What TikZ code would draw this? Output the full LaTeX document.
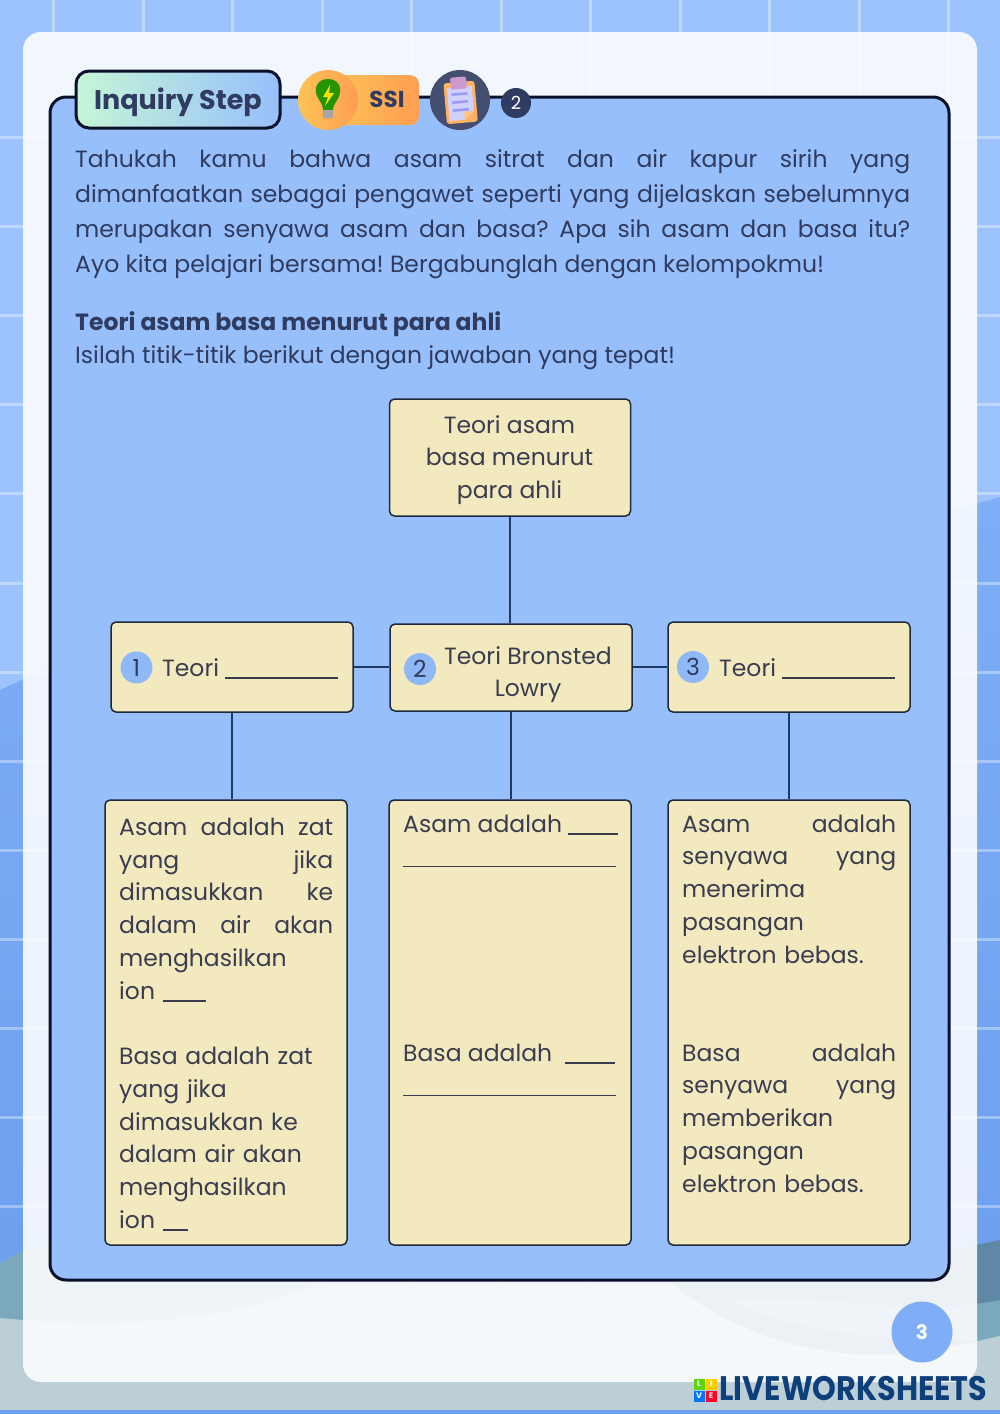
\documentclass[tikz,border=0pt]{standalone}
\usepackage{fontspec}
\setmainfont{Poppins}
\usepackage{xcolor}
\usetikzlibrary{calc, positioning, shapes.geometric}

\definecolor{skylight}{HTML}{9CC3FC}
\definecolor{skyhill}{HTML}{7FAEF7}
\definecolor{skydeep}{HTML}{6C9FEE}
\definecolor{hilldark}{HTML}{5F87A6}
\definecolor{hillteal}{HTML}{7BA9BC}
\definecolor{hillpale}{HTML}{BCCFD7}
\definecolor{panelblue}{HTML}{97BFFC}
\definecolor{inkdark}{HTML}{0A1128}
\definecolor{inknavy}{HTML}{2F3B60}
\definecolor{inkbox}{HTML}{3A3D50}
\definecolor{boxcream}{HTML}{F3E9BF}
\definecolor{boxedge}{HTML}{1F2937}
\definecolor{linknavy}{HTML}{1F3A66}
\definecolor{badgeblue}{HTML}{8FB8F7}
\definecolor{tagmint}{HTML}{C6F6D6}
\definecolor{pillstart}{HTML}{FCC456}
\definecolor{pillend}{HTML}{FF9E52}
\definecolor{logoblue}{HTML}{0F3F7A}

\newcommand{\jl}[2][\hsize]{\leavevmode{\spaceskip=\fontdimen2\font plus 1fil minus 0.4\fontdimen2\font\hbox to #1{#2}}}
\newcommand{\blank}[1]{\rule[-2.5pt]{#1pt}{1.4pt}}

\tikzset{
    sheetbox/.style={draw=boxedge, line width=1.5pt, fill=boxcream, rounded corners=5pt, inner sep=0pt},
    link/.style={draw=linknavy, line width=2pt},
    badge/.style={circle, fill=badgeblue, minimum size=32pt, inner sep=0pt, text=inknavy, font=\fontsize{23.5}{23.5}\selectfont},
    bodytext/.style={inner sep=0pt, anchor=base west, text=inknavy, align=left, font=\fontsize{23.5}{35}\selectfont},
    boxtext/.style={inner sep=0pt, text=inkbox, align=left, font=\fontsize{23.5}{32.75}\selectfont},
    logotile/.style={minimum size=11pt, inner sep=0pt, text=white, font=\bfseries\fontsize{8}{8}\selectfont},
}

\begin{document}
\frenchspacing
\begin{tikzpicture}[x=1pt,y=-1pt]
    \useasboundingbox (0,0) rectangle (1000,1414);

    % page background
    \fill[skylight] (0,0) rectangle (1000,1414);
    \shade[top color=skyhill, bottom color=skydeep] (0,690) .. controls (150,620) and (320,560) .. (520,540)
        .. controls (700,530) and (860,540) .. (1000,497) -- (1000,1300) -- (0,1300) -- cycle;
    \foreach \gy in {137,226,315,404,493,583,672,761,850,939,1028,1117,1206}
        \draw[white, opacity=0.35, line width=3pt] (0,\gy) -- (1000,\gy);
    \foreach \gx in {53,143,232,322,411,501,590,680,769,859,948}
        \draw[white, opacity=0.35, line width=3pt] (\gx,0) -- (\gx,1300);
    \fill[hilldark] (1000,1240) .. controls (900,1262) and (780,1270) .. (670,1283)
        .. controls (730,1330) and (800,1355) .. (880,1355) -- (1000,1355) -- cycle;
    \fill[hillteal] (0,1263) .. controls (40,1240) and (80,1225) .. (150,1225)
        .. controls (220,1225) and (300,1260) .. (320,1283)
        .. controls (240,1320) and (120,1330) .. (0,1318) -- cycle;
    \fill[hillteal] (1000,1300) .. controls (900,1320) and (830,1290) .. (730,1300)
        .. controls (780,1330) and (900,1345) .. (1000,1340) -- cycle;
    \fill[hillpale] (0,1318) .. controls (120,1330) and (240,1320) .. (320,1283)
        -- (670,1283) .. controls (730,1330) and (800,1355) .. (880,1355)
        .. controls (920,1355) and (960,1345) .. (1000,1336) -- (1000,1410) -- (0,1410) -- cycle;
    \fill[skydeep] (0,1410) rectangle (1000,1414);

    % white sheet and blue panel
    \fill[white!97!skylight, opacity=0.9, rounded corners=18pt] (23,32) rectangle (977,1382);
    \draw[draw=inkdark, line width=3pt, fill=panelblue, rounded corners=16pt] (50,97) rectangle (949,1280);

    % header
    \node[draw=inkdark, line width=3pt, left color=tagmint, right color=panelblue, rounded corners=13pt,
        minimum width=204pt, minimum height=57pt, inner sep=0pt, text=inknavy, text height=19pt, text depth=0pt,
        font=\bfseries\fontsize{27}{27}\selectfont] (tag) at (178,99.5) {Inquiry Step};
    \node[left color=pillstart, right color=pillend, rounded corners=9pt,
        minimum width=90pt, minimum height=50pt, inner sep=0pt] (pill) at (374,100) {};
    \node[circle, left color=pillstart, right color=pillend, minimum size=60pt, inner sep=0pt] (bulbdisc) at (328,100) {};
    \node[text=inknavy, inner sep=0pt, font=\bfseries\fontsize{23}{23}\selectfont] (ssi) at (387,99) {SSI};
    \fill[green!50!black!85!yellow] (328,79) .. controls (316,79) and (314,90) .. (317,96)
        .. controls (320,102) and (323,104) .. (323,110) -- (333,110)
        .. controls (333,104) and (337,102) .. (339,96) .. controls (342,90) and (340,79) .. (328,79) -- cycle;
    \fill[yellow!85!orange] (330,85) -- (323,97) -- (328,97) -- (325,106) -- (334,93) -- (329,93) -- cycle;
    \fill[gray!70] (323,110) rectangle (333,118);
    \node[circle, fill=inknavy!90!white, minimum size=60pt, inner sep=0pt] (clipdisc) at (460,100) {};
    \begin{scope}[shift={(460,101)}, rotate=5]
        \fill[orange!60!white, rounded corners=3pt] (-15,-19) rectangle (16,22);
        \fill[blue!18!white] (-12,-14) -- (13,-14) -- (13,11) -- (3,19) -- (-12,19) -- cycle;
        \fill[orange!45!white] (13,11) -- (3,11) -- (3,19) -- cycle;
        \fill[violet!40!white, rounded corners=2pt] (-8,-24) rectangle (8,-12);
        \foreach \ly in {-7,1,9}
            \draw[blue!40!white, line width=2.5pt] (-8,\ly) -- (8,\ly);
    \end{scope}
    \node[circle, fill=inknavy, minimum size=30pt, inner sep=0pt, text=white, font=\fontsize{18}{18}\selectfont] (stepnum) at (516,103) {2};

    % intro text
    \node[bodytext, anchor=north west, text width=835pt] (intro) at (75,149.5) {%
        \jl{Tahukah kamu bahwa asam sitrat dan air kapur sirih yang}\\
        \jl{dimanfaatkan sebagai pengawet seperti yang dijelaskan sebelumnya}\\
        \jl{merupakan senyawa asam dan basa? Apa sih asam dan basa itu?}\\
        \jl[749pt]{Ayo kita pelajari bersama! Bergabunglah dengan kelompokmu!}};
    \node[bodytext, font=\bfseries\fontsize{23.5}{33}\selectfont] (subtitle) at (75,330.5) {Teori asam basa menurut para ahli};
    \node[bodytext] (task) at (75,363) {Isilah titik-titik berikut dengan jawaban yang tepat!};

    % diagram
    \node[sheetbox, minimum width=241pt, minimum height=117pt] (root) at (510,457.5) {};
    \node[sheetbox, minimum width=242pt, minimum height=90pt] (teoria) at (232,667) {};
    \node[sheetbox, minimum width=242pt, minimum height=87pt] (teorib) at (511,667.5) {};
    \node[sheetbox, minimum width=242pt, minimum height=90pt] (teoric) at (789,667) {};
    \node[sheetbox, minimum width=242pt, minimum height=445pt] (isia) at (226,1022.5) {};
    \node[sheetbox, minimum width=242pt, minimum height=445pt] (isib) at (510,1022.5) {};
    \node[sheetbox, minimum width=242pt, minimum height=445pt] (isic) at (789,1022.5) {};

    \draw[link] (root.south) -- (root.south |- teorib.north);
    \draw[link] (teoria.east) -- (teoria.east -| teorib.west);
    \draw[link] (teorib.east |- teoric.west) -- (teoric.west);
    \draw[link] (teoria.south) -- (teoria.south |- isia.north);
    \draw[link] (teorib.south) -- (teorib.south |- isib.north);
    \draw[link] (teoric.south) -- (teoric.south |- isic.north);

    \node[boxtext, align=center] (roottext) at (509.5,460) {Teori asam\\basa menurut\\para ahli};
    \node[badge] (numa) at (136.5,667.5) {1};
    \node[badge] (numb) at (420,669) {2};
    \node[badge] (numc) at (693,667) {3};
    \node[boxtext, anchor=base west] (namea) at (162,676) {Teori \blank{113}};
    \node[boxtext, align=center] (nameb) at (528,674.5) {Teori Bronsted\\Lowry};
    \node[boxtext, anchor=base west] (namec) at (719,676) {Teori \blank{113}};

    \node[boxtext, anchor=north west, text width=214pt] (texta) at (119,817.7) {%
        \jl{Asam adalah zat}\\
        \jl{yang jika}\\
        \jl{dimasukkan ke}\\
        \jl{dalam air akan}\\
        menghasilkan\\
        ion \blank{43}\\[32.75pt]
        Basa adalah zat\\
        yang jika\\
        dimasukkan ke\\
        dalam air akan\\
        menghasilkan\\
        ion \blank{25}};
    \node[boxtext, anchor=north west] (textb) at (403,814.5) {%
        Asam adalah \blank{50}\\
        \blank{213}};
    \node[boxtext, anchor=north west] (textbb) at (403,1043.5) {%
        Basa adalah\ \ \blank{50}\\
        \blank{213}};
    \node[boxtext, anchor=north west, text width=214pt] (textc) at (682,814.5) {%
        \jl{Asam adalah}\\
        \jl{senyawa yang}\\
        menerima\\
        pasangan\\
        elektron bebas.};
    \node[boxtext, anchor=north west, text width=214pt] (textcc) at (682,1043.5) {%
        \jl{Basa adalah}\\
        \jl{senyawa yang}\\
        memberikan\\
        pasangan\\
        elektron bebas.};

    % footer
    \node[circle, fill=skyhill, minimum size=61pt, inner sep=0pt, text=white, font=\bfseries\fontsize{20}{20}\selectfont] (pagenum) at (922,1332) {3};
    \node[logotile, fill=green!60!yellow!85!black] (logol) at (699,1384) {L};
    \node[logotile, fill=orange!40!yellow] (logoi) at (711,1384) {I};
    \node[logotile, fill=blue!55!cyan] (logov) at (699,1396) {V};
    \node[logotile, fill=red!85!magenta] (logoe) at (711,1396) {E};
    \node[anchor=base west, inner sep=0pt, text=logoblue, xscale=0.89, font=\bfseries\fontsize{34}{34}\selectfont] (logotext) at (719,1400) {LIVEWORKSHEETS};
\end{tikzpicture}
\end{document}
